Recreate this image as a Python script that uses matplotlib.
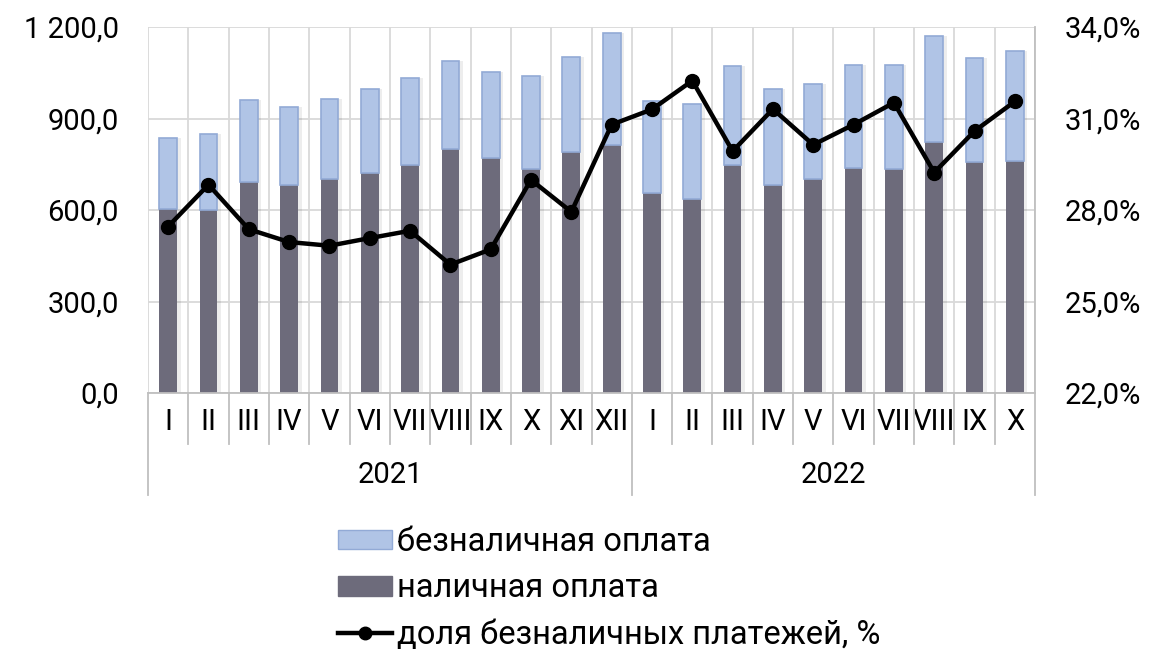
import matplotlib
matplotlib.use("Agg")
import matplotlib.pyplot as plt
from matplotlib.lines import Line2D
from matplotlib.patches import Patch
from matplotlib.ticker import FuncFormatter, FixedLocator
import matplotlib.transforms as mtransforms


MONTHS = ["I", "II", "III", "IV", "V", "VI", "VII", "VIII", "IX", "X", "XI", "XII",
          "I", "II", "III", "IV", "V", "VI", "VII", "VIII", "IX", "X"]
YEARS = ["2021", "2022"]
YEAR_LENGTHS = [12, 10]

# cash payments (bottom part of each bar)
CASH = [602, 600, 693, 681, 701, 723, 747, 801, 769, 734, 791, 812,
        655, 637, 747, 682, 702, 738, 733, 823, 758, 762]
# bar totals (cash + cashless)
TOTAL = [837, 848, 960, 937, 965, 997, 1033, 1090, 1054, 1038, 1103, 1179,
         959, 946, 1071, 998, 1013, 1074, 1075, 1170, 1099, 1120]
# share of cashless payments, %
SHARE = [27.46, 28.83, 27.37, 26.95, 26.83, 27.08, 27.32, 26.21, 26.71, 28.99, 27.94, 30.80,
         31.30, 32.24, 29.93, 31.31, 30.14, 30.80, 31.52, 29.23, 30.59, 31.56]

CASHLESS = [t - c for t, c in zip(TOTAL, CASH)]

DARK = "#6d6b7b"
LIGHT = "#b0c4e6"
LIGHT_EDGE = "#92aad6"
GRID = "#d9d9d9"
AXIS = "#bfbfbf"
TICK_FS = 21
LEGEND_FS = 23.5

plt.rcParams["font.family"] = ["Roboto", "DejaVu Sans"]

fig = plt.figure(figsize=(11.58, 6.54), dpi=100)
ax = fig.add_axes([0.1278, 0.399, 0.766, 0.5597])

x = list(range(len(MONTHS)))
# soft shadow to the lower right of each bar, like the original
ax.bar([i + 0.06 for i in x], TOTAL, width=0.5, color="black", alpha=0.07,
       linewidth=0, zorder=1.5)
ax.bar(x, CASH, width=0.44, color=DARK, zorder=2)
ax.bar(x, CASHLESS, bottom=CASH, width=0.44, color=LIGHT, edgecolor=LIGHT_EDGE,
       linewidth=1.2, zorder=2)

ax.set_xlim(-0.5, len(MONTHS) - 0.5)
ax.set_ylim(0, 1200)
ax.set_yticks([0, 300, 600, 900, 1200])
ax.yaxis.set_major_formatter(FuncFormatter(
    lambda v, p: f"{v:,.1f}".replace(",", " ").replace(".", ",")))
ax.set_axisbelow(True)
ax.grid(axis="y", color=GRID, linewidth=1.3)
ax.xaxis.set_minor_locator(FixedLocator([i - 0.5 for i in range(len(MONTHS) + 1)]))
ax.grid(axis="x", which="minor", color=GRID, linewidth=1.3)
ax.set_xticks(x)
ax.set_xticklabels(MONTHS, fontsize=TICK_FS)
ax.tick_params(axis="x", which="both", length=0, pad=11)
ax.tick_params(axis="y", length=0, labelsize=TICK_FS, pad=21)
for s in ["top", "left", "right"]:
    ax.spines[s].set_visible(False)
ax.spines["bottom"].set_color(AXIS)
ax.spines["bottom"].set_linewidth(1.3)

# multi-level category axis: month separators and year separators
trans = mtransforms.blended_transform_factory(ax.transData, ax.transAxes)
year_edges = [-0.5]
for n in YEAR_LENGTHS:
    year_edges.append(year_edges[-1] + n)
for i in range(len(MONTHS) + 1):
    b = i - 0.5
    low = -0.279 if b in year_edges else -0.139
    ax.plot([b, b], [0, low], transform=trans, color=AXIS, linewidth=1.3,
            clip_on=False, zorder=1)
for name, a, b in zip(YEARS, year_edges[:-1], year_edges[1:]):
    ax.text((a + b) / 2, -0.223, name, transform=trans, ha="center", va="center",
            fontsize=TICK_FS)

ax2 = ax.twinx()
ax2.plot(x, SHARE, color="black", linewidth=3.2, marker="o", markersize=10, zorder=5)
ax2.set_ylim(22, 34)
ax2.set_yticks([22, 25, 28, 31, 34])
ax2.yaxis.set_major_formatter(FuncFormatter(lambda v, p: f"{v:.1f}%".replace(".", ",")))
ax2.tick_params(axis="y", length=0, labelsize=TICK_FS, pad=21)
for s in ["top", "left", "bottom"]:
    ax2.spines[s].set_visible(False)
ax2.spines["right"].set_color(AXIS)
ax2.spines["right"].set_linewidth(1.3)

handles = [
    Patch(facecolor=LIGHT, edgecolor=LIGHT_EDGE, label="безналичная оплата"),
    Patch(facecolor=DARK, edgecolor=DARK, label="наличная оплата"),
    Line2D([0], [0], color="black", linewidth=3.2, marker="o", markersize=9,
           label="доля безналичных платежей, %"),
]
fig.legend(handles=handles, loc="upper left", bbox_to_anchor=(0.2919, 0.1957),
           frameon=False, fontsize=LEGEND_FS, handlelength=1.65, handleheight=0.55,
           handletextpad=0.15, labelspacing=0.44, borderaxespad=0, borderpad=0)

fig.savefig("out.png", dpi=100)
